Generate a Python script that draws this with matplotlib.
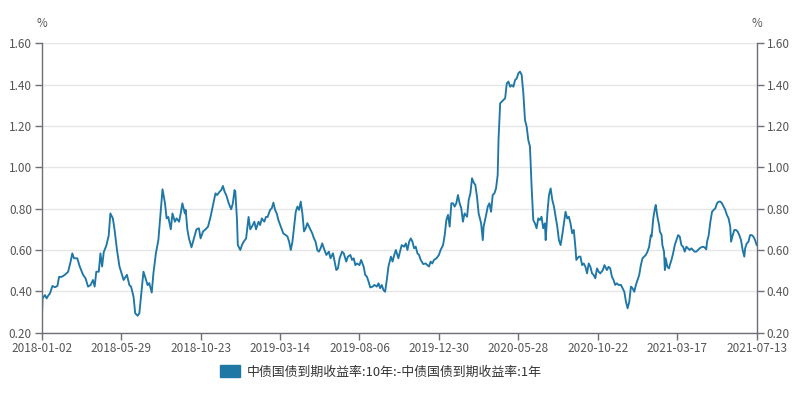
import matplotlib
matplotlib.use("Agg")
import matplotlib.pyplot as plt
from matplotlib.patches import Patch

plt.rcParams['font.family'] = ['Noto Sans CJK SC', 'DejaVu Sans']

# x-axis category labels (every 96 trading days)
tick_labels = ["2018-01-02", "2018-05-29", "2018-10-23", "2019-03-14", "2019-08-06",
               "2019-12-30", "2020-05-28", "2020-10-22", "2021-03-17", "2021-07-13"]
tick_step = 96

# trading-day index of each sampled point
trade_day = [
    0, 1, 4, 6, 8, 10, 13, 16, 19, 21, 24, 28, 32, 35, 37, 39, 43, 46, 50, 53, 56, 59, 62, 64, 66, 69,
    71, 73, 75, 78, 81, 83, 86, 88, 91, 94, 97, 99, 103, 106, 108, 111, 113, 116, 118, 120, 123, 125,
    128, 130, 133, 135, 138, 141, 144, 146, 149, 151, 153, 156, 158, 161, 163, 166, 168, 170, 173,
    174, 176, 178, 181, 184, 187, 190, 192, 195, 198, 201, 204, 207, 210, 212, 215, 217, 219, 221,
    223, 226, 229, 231, 233, 234, 236, 237, 240, 242, 244, 247, 250, 252, 254, 257, 259, 262, 264,
    266, 269, 271, 273, 276, 278, 280, 282, 284, 286, 289, 292, 295, 297, 299, 301, 303, 305, 307,
    309, 311, 313, 315, 317, 319, 321, 324, 327, 329, 331, 333, 335, 337, 339, 341,
    344, 347, 349, 352, 354, 356, 358, 360, 363, 365, 368, 370, 373, 375, 377, 379, 381, 384, 386,
    389, 391, 393, 395, 397, 400, 402, 405, 407, 409, 411, 413, 415, 417, 419, 422, 424, 426, 428,
    431, 433, 435, 438, 440, 442, 444, 446, 448, 450, 452, 454, 456, 458, 461, 464, 466, 468, 470,
    472, 474, 477, 480, 482, 485, 487, 489, 491, 493, 495, 497, 499, 501, 503, 505, 507, 509, 511,
    514, 516, 518, 520, 522, 524, 526, 528, 531, 533, 534, 537, 539, 541, 543, 545, 547, 549, 551,
    552, 554, 556, 558, 560, 562, 564, 566, 568, 570, 572, 574, 576, 578, 580, 582, 584, 586, 588,
    590, 592, 594, 596, 598, 600, 602, 604, 606, 608, 609, 611, 613, 615, 617, 619, 621, 623, 625,
    627, 629, 631, 633, 635, 637, 639, 641, 643, 645, 646, 649, 651, 653, 655, 657, 659, 661, 663,
    665, 667, 669, 671, 673, 675, 678, 680,
    683, 685, 687, 689, 691, 693, 695, 697, 700, 702, 704, 706, 708, 710, 712, 714, 716, 718, 720,
    722, 724, 726, 728, 730, 732, 734, 736, 737, 739, 741, 742, 744, 746, 747, 749, 750, 752, 753,
    754, 756, 758, 759, 761, 763, 765, 767, 769, 771, 773, 775, 777, 779, 781, 783, 785, 787, 789,
    791, 793, 795, 797, 799, 801, 803, 804, 806, 808, 810, 812, 814, 816, 818, 820, 822, 824, 826,
    828, 830, 832, 833, 835, 837, 839, 841, 843, 845, 847, 849, 850, 852, 854, 856, 858, 860, 862, 864,
]

# 10Y - 1Y China government bond yield spread (%)
spread = [
    0.229, 0.366, 0.382, 0.366, 0.380, 0.390, 0.426, 0.420, 0.426, 0.470, 0.470, 0.480, 0.495, 0.545,
    0.584, 0.560, 0.560, 0.520, 0.480, 0.463, 0.423, 0.430, 0.455, 0.423, 0.495, 0.495,
    0.584, 0.520, 0.590, 0.620, 0.670, 0.777, 0.753, 0.700, 0.600, 0.520, 0.480, 0.455, 0.480, 0.430,
    0.423, 0.374, 0.294, 0.282, 0.294, 0.374, 0.495, 0.470,
    0.430, 0.440, 0.394, 0.487, 0.584, 0.648, 0.794, 0.894, 0.826, 0.753, 0.760, 0.700, 0.777, 0.737,
    0.753, 0.737, 0.777, 0.826, 0.777,
    0.794, 0.700, 0.656, 0.613, 0.656, 0.700, 0.705, 0.656, 0.690, 0.700, 0.713, 0.760, 0.818, 0.874,
    0.866, 0.882, 0.890, 0.910, 0.882,
    0.866, 0.826, 0.797, 0.826, 0.890, 0.882, 0.745, 0.624, 0.600, 0.624, 0.640, 0.656, 0.760, 0.700,
    0.713, 0.737, 0.700, 0.737, 0.721,
    0.753, 0.737, 0.760, 0.760, 0.794, 0.802, 0.829, 0.794, 0.777, 0.745, 0.713, 0.680, 0.672, 0.665,
    0.640, 0.600, 0.640, 0.713, 0.785,
    0.810, 0.794, 0.834, 0.777, 0.690, 0.705, 0.730, 0.705, 0.680, 0.656, 0.640, 0.600, 0.592, 0.608,
    0.632, 0.608,
    0.576, 0.592, 0.560, 0.584, 0.544, 0.503, 0.511, 0.560, 0.592, 0.584, 0.544, 0.568, 0.576, 0.552,
    0.560, 0.527, 0.535, 0.527, 0.552,
    0.520, 0.479, 0.471, 0.447, 0.419, 0.423, 0.431, 0.423, 0.439, 0.415, 0.431, 0.406, 0.398, 0.455,
    0.520, 0.568, 0.544, 0.576, 0.600,
    0.560, 0.592, 0.624, 0.616, 0.632, 0.600, 0.640, 0.656, 0.640, 0.608, 0.616, 0.584, 0.576, 0.552,
    0.532, 0.535, 0.527, 0.520, 0.544,
    0.535, 0.552, 0.560, 0.576, 0.600, 0.624, 0.672, 0.745, 0.770, 0.713, 0.826, 0.826, 0.810, 0.826,
    0.866, 0.826, 0.802, 0.737, 0.777,
    0.761, 0.842, 0.874, 0.947, 0.926, 0.915, 0.858, 0.777, 0.729, 0.648, 0.713, 0.769, 0.810, 0.826,
    0.785, 0.866, 0.874, 0.898, 0.963,
    1.132, 1.310, 1.318, 1.326, 1.334, 1.406, 1.415, 1.390, 1.398, 1.390, 1.422, 1.430, 1.455, 1.463,
    1.447, 1.358, 1.229, 1.197, 1.132,
    1.100, 0.906, 0.745, 0.729, 0.705, 0.753, 0.745, 0.761, 0.705, 0.729, 0.648, 0.777, 0.866, 0.898,
    0.842, 0.810, 0.761, 0.713, 0.648,
    0.624, 0.672, 0.729, 0.785, 0.753, 0.761, 0.729, 0.681, 0.697, 0.608, 0.552, 0.568, 0.568, 0.527,
    0.535, 0.519, 0.487, 0.535, 0.519,
    0.487, 0.479, 0.463, 0.511, 0.495, 0.487, 0.503, 0.527,
    0.503, 0.519, 0.511, 0.471, 0.455, 0.431, 0.439, 0.431, 0.431, 0.415, 0.398, 0.350, 0.318, 0.350,
    0.423, 0.415, 0.398, 0.431, 0.455,
    0.479, 0.527, 0.560, 0.568, 0.576, 0.592, 0.616, 0.672, 0.665, 0.753, 0.802, 0.818, 0.761, 0.721,
    0.689, 0.673, 0.624, 0.592, 0.503,
    0.560, 0.519, 0.511, 0.527, 0.552, 0.584, 0.624, 0.648, 0.672, 0.665, 0.624, 0.616, 0.592, 0.616,
    0.608, 0.600, 0.608, 0.600, 0.592,
    0.592, 0.600, 0.608, 0.613, 0.616, 0.613, 0.603, 0.640, 0.672, 0.737, 0.785, 0.794, 0.802, 0.826,
    0.834, 0.834, 0.826, 0.810, 0.794,
    0.769, 0.753, 0.713, 0.640, 0.672, 0.697, 0.697, 0.689, 0.672, 0.648, 0.600, 0.568, 0.608, 0.632,
    0.640, 0.672, 0.672, 0.665, 0.648, 0.624,
]

legend_label = "中债国债到期收益率:10年:-中债国债到期收益率:1年"
y_ticks = [0.20, 0.40, 0.60, 0.80, 1.00, 1.20, 1.40, 1.60]

line_color = "#1f77a6"
axis_color = "#6e7079"
label_color = "#555555"

fig = plt.figure(figsize=(8.0, 3.94), dpi=100)
ax = fig.add_axes([0.0521, 0.1556, 0.8938, 0.7345])

ax.plot(trade_day, spread, color=line_color, linewidth=1.35, solid_joinstyle="round")

n_ticks = len(tick_labels)
ax.set_xlim(0, tick_step * (n_ticks - 1))
ax.set_xticks([i * tick_step for i in range(n_ticks)])
ax.set_xticklabels(tick_labels)
ax.set_ylim(0.20, 1.60)
ax.set_yticks(y_ticks)
ax.set_yticklabels([f"{v:.2f}" for v in y_ticks])

ax.grid(axis="y", color="#e6e6e6", linewidth=1.0)
ax.set_axisbelow(True)
ax.spines["top"].set_visible(False)
for side in ["left", "right", "bottom"]:
    ax.spines[side].set_color(axis_color)
    ax.spines[side].set_linewidth(1.0)

ax.tick_params(axis="x", direction="out", length=5, width=1, color=axis_color,
               labelsize=8.5, labelcolor=label_color, pad=2)
ax.tick_params(axis="y", direction="out", length=5, width=1, color=axis_color,
               labelsize=8.5, labelcolor=label_color, pad=2,
               left=True, right=True, labelleft=True, labelright=True)

ax.text(0.0, 1.069, "%", transform=ax.transAxes, ha="center", va="center",
        fontsize=8.3, color=label_color)
ax.text(1.0, 1.069, "%", transform=ax.transAxes, ha="center", va="center",
        fontsize=8.3, color=label_color)

handle = Patch(facecolor=line_color, edgecolor=line_color)
fig.legend([handle], [legend_label], loc="center", bbox_to_anchor=(0.476, 0.056),
           frameon=False, fontsize=9.3, handlelength=1.6, handleheight=1.0,
           handletextpad=0.5, labelcolor="#333333")

fig.savefig("out.png", dpi=100)
